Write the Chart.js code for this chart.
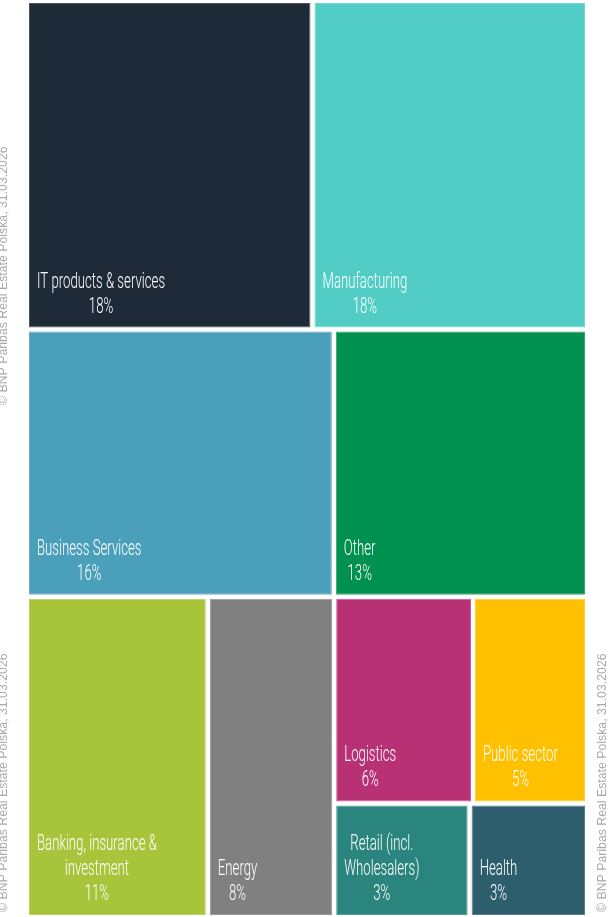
<!DOCTYPE html>
<html>
<head>
<meta charset="utf-8">
<script src="https://cdn.jsdelivr.net/npm/chart.js@4.4.1/dist/chart.umd.min.js"></script>
<style>
  html, body { margin: 0; padding: 0; background: #ffffff; }
  #wrap { width: 608px; height: 917px; }
</style>
</head>
<body>
<div id="wrap"><canvas id="myChart" width="608" height="917"></canvas></div>
<script>
// Sectors, largest first (multi-line names as arrays)
const sectors = [
  ['IT products & services'],
  ['Manufacturing'],
  ['Business Services'],
  ['Other'],
  ['Banking, insurance &', 'investment'],
  ['Energy'],
  ['Logistics'],
  ['Public sector'],
  ['Retail (incl.', 'Wholesalers)'],
  ['Health']
];
// share of take-up, %
const shares = [18.3, 17.6, 16.0, 13.2, 11.3, 7.9, 5.6, 4.6, 3.0, 2.6];
const colours = ['#1f2a38', '#52cdc6', '#4a9fbb', '#00904f', '#a8c43b', '#808080', '#b83174', '#ffc000', '#2a857e', '#2d5e6e'];
const sourceNote = '\u00a9 BNP Paribas Real Estate Polska, 31.03.2026';

const SQUEEZE = 0.6;   // condensed look for the labels
const SHAPE = 1.35;    // >1 favours cells slightly taller than wide

function tint(hex, amount) {
  const n = parseInt(hex.slice(1), 16);
  const ch = [n >> 16, (n >> 8) & 255, n & 255].map(v => Math.round(v + (255 - v) * amount));
  return 'rgb(' + ch.join(',') + ')';
}

// squarified layout in a W x H box, returns boxes in the same units
function squarify(values, W, H) {
  const total = values.reduce((a, b) => a + b, 0);
  const k = W * H / total;
  const cells = [];
  let x = 0, y = 0, w = W, h = H, i = 0;

  const worst = (row, side, across) => {
    const thick = row.reduce((a, b) => a + b, 0) * k / side;
    let r = 0;
    row.forEach(v => {
      const len = v * k / thick;
      const cw = across ? len : thick;
      const ch = across ? thick : len;
      r = Math.max(r, SHAPE * cw / ch, ch / (SHAPE * cw));
    });
    return r;
  };

  while (i < values.length) {
    const across = w <= h;           // row runs along the shorter side
    const side = across ? w : h;
    const row = [values[i]];
    let best = worst(row, side, across);
    let j = i + 1;
    while (j < values.length) {
      const s = worst(row.concat(values[j]), side, across);
      if (s > best) break;
      row.push(values[j]);
      best = s;
      j++;
    }
    const thick = row.reduce((a, b) => a + b, 0) * k / side;
    let pos = across ? x : y;
    row.forEach(v => {
      const len = v * k / thick;
      if (across) cells.push({x0: pos, x1: pos + len, y0: y, y1: y + thick});
      else cells.push({x0: x, x1: x + thick, y0: pos, y1: pos + len});
      pos += len;
    });
    if (across) { y += thick; h -= thick; } else { x += thick; w -= thick; }
    i = j;
  }
  return cells;
}

class TreemapController extends Chart.DatasetController {
  static id = 'treemap';
  static defaults = { datasetElementType: false, dataElementType: 'bar' };
  static overrides = { scales: { x: { type: 'linear' }, y: { type: 'linear' } } };

  update(mode) {
    const meta = this._cachedMeta;
    this.updateElements(meta.data, 0, meta.data.length, mode);
  }

  updateElements(rects, start, count, mode) {
    const {xScale, yScale} = this._cachedMeta;
    const gap = this.getDataset().gap || 0;
    const W = Math.abs(xScale.getPixelForValue(xScale.max) - xScale.getPixelForValue(xScale.min));
    const H = Math.abs(yScale.getPixelForValue(yScale.max) - yScale.getPixelForValue(yScale.min));
    const boxes = squarify(this.getDataset().data, W, H);
    const xv = p => xScale.min + p / W * (xScale.max - xScale.min);
    const yv = p => yScale.min + p / H * (yScale.max - yScale.min);

    for (let i = start; i < start + count; i++) {
      const b = boxes[i];
      const left = xScale.getPixelForValue(xv(b.x0)) + gap;
      const right = xScale.getPixelForValue(xv(b.x1)) - gap;
      const top = yScale.getPixelForValue(yv(b.y0)) + gap;
      const bottom = yScale.getPixelForValue(yv(b.y1)) - gap;
      this.updateElement(rects[i], i, {
        x: (left + right) / 2,
        y: top,
        base: bottom,
        width: right - left,
        height: bottom - top,
        horizontal: false,
        borderSkipped: {},
        inflateAmount: 0,
        enableBorderRadius: false,
        options: this.resolveDataElementOptions(i, mode)
      }, mode);
    }
  }
}
Chart.register(TreemapController);

// name + rounded share, bottom-left of each cell, lines centred on each other
const cellLabels = {
  id: 'cellLabels',
  afterDatasetsDraw(chart) {
    const ctx = chart.ctx;
    const meta = chart.getDatasetMeta(0);
    const values = chart.data.datasets[0].data;
    ctx.save();
    ctx.font = '300 22px Roboto';
    ctx.fillStyle = '#ffffff';
    ctx.textAlign = 'center';
    meta.data.forEach((rect, i) => {
      const lines = chart.data.labels[i].concat(Math.round(values[i]) + '%');
      const left = rect.x - rect.width / 2 + 8;
      const bottom = Math.max(rect.y, rect.base) - 15;
      const blockW = Math.max(...lines.map(l => ctx.measureText(l).width * SQUEEZE));
      lines.forEach((l, j) => {
        ctx.save();
        ctx.translate(left + blockW / 2, bottom - (lines.length - 1 - j) * 25);
        ctx.scale(SQUEEZE, 1);
        ctx.fillText(l, 0, 0);
        ctx.restore();
      });
    });
    ctx.restore();
  }
};

// vertical source notes at both sides
const sourceMarks = {
  id: 'sourceMarks',
  afterDraw(chart) {
    const ctx = chart.ctx;
    ctx.save();
    ctx.font = '12.3px "Liberation Sans"';
    ctx.fillStyle = '#a9a9a9';
    ctx.textAlign = 'left';
    [[7, 405], [7, 912], [606, 912]].forEach(([x, y]) => {
      ctx.save();
      ctx.translate(x, y);
      ctx.rotate(-Math.PI / 2);
      ctx.fillText(sourceNote, 0, 0);
      ctx.restore();
    });
    ctx.restore();
  }
};

new Chart(document.getElementById('myChart'), {
  type: 'treemap',
  data: {
    labels: sectors,
    datasets: [{
      data: shares,
      backgroundColor: colours,
      borderColor: colours.map(c => tint(c, 0.2)),
      borderWidth: 1,
      gap: 2
    }]
  },
  options: {
    responsive: false,
    animation: false,
    events: [],
    layout: { padding: { left: 27, right: 21, top: 1, bottom: 0 } },
    plugins: { legend: { display: false }, tooltip: { enabled: false } },
    scales: {
      x: { type: 'linear', min: 0, max: 100, display: false },
      y: { type: 'linear', min: 0, max: 100, reverse: true, display: false }
    }
  },
  plugins: [cellLabels, sourceMarks]
});
</script>
</body>
</html>
